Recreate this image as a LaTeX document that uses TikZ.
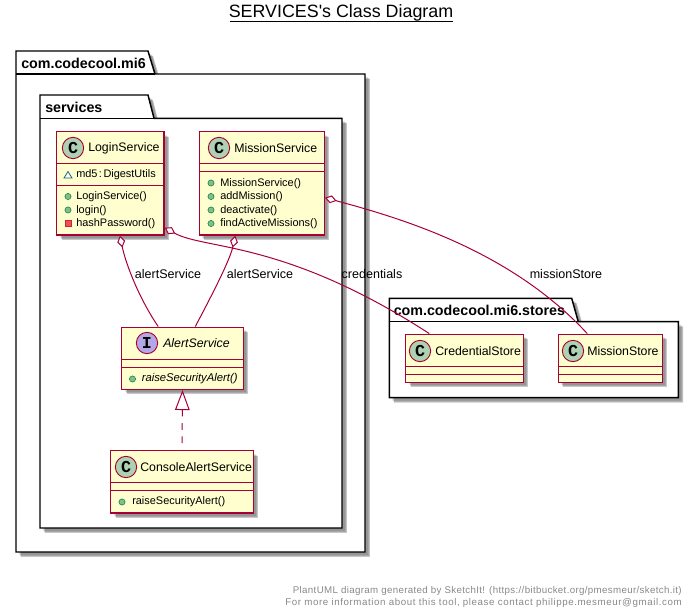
\documentclass[tikz,border=0pt]{standalone}
\usepackage{fontspec}
\setmainfont{Liberation Sans}
\newfontfamily\plainfont{Liberation Sans}
\newfontfamily\spotfont{Liberation Mono}
\usetikzlibrary{shadows,fit,arrows.meta,calc}
\definecolor{crim}{HTML}{A80036}
\definecolor{clsfill}{HTML}{FEFECE}
\definecolor{spotc}{HTML}{ADD1B2}
\definecolor{spoti}{HTML}{B4A7E5}
\definecolor{pubfill}{HTML}{84BE84}
\definecolor{pubdraw}{HTML}{038048}
\definecolor{privfill}{HTML}{F24D5C}
\definecolor{privdraw}{HTML}{C82930}
\definecolor{pkgdraw}{HTML}{1963A0}
\definecolor{footc}{HTML}{888888}
\tikzset{
  softshadow/.style={
    general shadow={fill=black,opacity=.10,shadow xshift=2.2pt,shadow yshift=-2.2pt},
    general shadow={fill=black,opacity=.16,shadow xshift=3pt,shadow yshift=-3pt},
    general shadow={fill=black,opacity=.22,shadow xshift=3.7pt,shadow yshift=-3.7pt}},
  cls/.style={draw=crim,line width=1.1pt,fill=clsfill,inner sep=0pt,softshadow},
  pkgbody/.style={draw=black,line width=1.1pt,fill=white,softshadow},
  pkgline/.style={draw=black,line width=1.1pt},
  sep/.style={draw=crim,line width=1.1pt},
  spot/.style={circle,draw=crim,line width=.7pt,minimum size=16pt,inner sep=0pt,font=\spotfont\bfseries\fontsize{12.5pt}{14pt}\selectfont},
  cname/.style={anchor=west,inner sep=0pt,font=\fontsize{9.25pt}{11pt}\selectfont},
  mem/.style={anchor=west,inner sep=0pt,font=\fontsize{8.2pt}{10pt}\selectfont},
  pname/.style={anchor=west,inner sep=0pt,font=\bfseries\fontsize{10.7pt}{12pt}\selectfont},
  lbl/.style={inner sep=0pt,font=\fontsize{9.4pt}{11pt}\selectfont},
  pubicon/.style={circle,draw=pubdraw,fill=pubfill,line width=.4pt,minimum size=4.6pt,inner sep=0pt},
  privicon/.style={rectangle,draw=privdraw,fill=privfill,line width=.4pt,minimum size=4.4pt,inner sep=0pt},
  assoc/.style={draw=crim,line width=.75pt,{Diamond[open,fill=white,length=9pt,width=6pt]}-},
  realize/.style={draw=crim,line width=.75pt,dash pattern=on 5pt off 5pt,{Triangle[open,fill=white,length=15pt,width=11pt]}-},
}
\begin{document}
\begin{tikzpicture}[x=0.75pt,y=-0.75pt]
\useasboundingbox (0,0) rectangle (694,613);
% title
\node[inner sep=0pt,font=\plainfont\fontsize{13.4pt}{16pt}\selectfont] (title) at (341,12.5) {SERVICES's Class Diagram};
\draw[line width=.95pt] (229.5,21.5) -- (453,21.5);
% outer package
\path[pkgbody] (16,51) -- (148,51) -- (155,74) -- (365,74) -- (365,552) -- (16,552) -- cycle;
\path[pkgline] (16,74) -- (155,74);
\node[pname] (pkgmi) at (21,63) {com.codecool.mi6};
% services package
\path[pkgbody] (40,95) -- (148,95) -- (154,118.3) -- (342,118.3) -- (342,528) -- (40,528) -- cycle;
\path[pkgline] (40,118.3) -- (154,118.3);
\node[pname] (pkgsv) at (45,107) {services};
% stores package
\path[pkgbody] (389.3,298.3) -- (571.7,298.3) -- (578.3,321.7) -- (678.3,321.7) -- (678.3,397.7) -- (389.3,397.7) -- cycle;
\path[pkgline] (389.3,321.7) -- (578.3,321.7);
\node[pname] (pkgst) at (393.5,310) {com.codecool.mi6.stores};
% classes
\node[cls,fit={(56.7,131.7)(164,235)}] (login) {};
\node[cls,fit={(199.3,131.7)(324.3,235)}] (mission) {};
\node[cls,fit={(121.7,327.3)(243.3,389.3)}] (alert) {};
\node[cls,fit={(110.7,450.7)(253.3,513)}] (console) {};
\node[cls,fit={(405.7,334.3)(523.3,382.3)}] (cred) {};
\node[cls,fit={(558.3,334.3)(662.3,382.3)}] (mstore) {};
% compartments
\foreach \n/\a/\b in {login/163.3/185.7,mission/163.3/171.7,alert/359.3/367.3,console/482.7/490.7,cred/366.7/374.7,mstore/366.7/374.7}{
  \draw[sep] (\n.west |- 0,\a) -- (\n.east |- 0,\a);
  \draw[sep] (\n.west |- 0,\b) -- (\n.east |- 0,\b);
}
% headers
\node[spot,fill=spotc] (s1) at (73,148) {C};
\node[cname] (t1) at (88,148) {LoginService};
\node[spot,fill=spotc] (s2) at (219,148) {C};
\node[cname] (t2) at (234,148) {MissionService};
\node[spot,fill=spoti] (s3) at (147,343) {I};
\node[cname] (t3) at (163,343) {\itshape AlertService};
\node[spot,fill=spotc] (s4) at (126,467) {C};
\node[cname] (t4) at (140,467) {ConsoleAlertService};
\node[spot,fill=spotc] (s5) at (420,351) {C};
\node[cname] (t5) at (435,351) {CredentialStore};
\node[spot,fill=spotc] (s6) at (573,351) {C};
\node[cname] (t6) at (587,351) {MissionStore};
% members of LoginService
\draw[pkgdraw,line width=.6pt] (64,178) -- (68,171.5) -- (72,178) -- cycle;
\node[mem] (m1) at (76,175) {md5\kern1.1pt:\kern1.1pt DigestUtils};
\node[pubicon] (i2) at (68,196.5) {};
\node[mem] (m2) at (76,197) {LoginService()};
\node[pubicon] (i3) at (68,210) {};
\node[mem] (m3) at (76,210.5) {login()};
\node[privicon] (i4) at (68,223.5) {};
\node[mem] (m4) at (76,224) {hashPassword()};
% members of MissionService
\node[pubicon] (i5) at (211,183) {};
\node[mem] (m5) at (220,183.5) {MissionService()};
\node[pubicon] (i6) at (211,196.5) {};
\node[mem] (m6) at (220,197) {addMission()};
\node[pubicon] (i7) at (211,210) {};
\node[mem] (m7) at (220,210.5) {deactivate()};
\node[pubicon] (i8) at (211,223.5) {};
\node[mem] (m8) at (220,224) {findActiveMissions()};
% other members
\node[pubicon] (i9) at (132.5,379) {};
\node[mem,font=\fontsize{8.45pt}{10pt}\selectfont] (m9) at (141.5,379) {\itshape raiseSecurityAlert()};
\node[pubicon] (i10) at (122,502) {};
\node[mem] (m10) at (132,502) {raiseSecurityAlert()};
% connectors
\draw[assoc] ($(login.south west)+(64,0)$) .. controls (126,265) and (140,300) .. ($(alert.north west)+(37.3,0)$);
\draw[assoc] ($(mission.south west)+(36.7,0)$) .. controls (230,260) and (212,295) .. ($(alert.north west)+(74.3,0)$);
\draw[assoc] ($(login.south east)+(0,-8)$) .. controls (205,250) and (285,240) .. ($(cred.north west)+(24.3,0)$);
\draw[assoc] ($(mission.south east)+(0,-38)$) .. controls (400,218) and (510,250) .. ($(mstore.north west)+(29.7,0)$);
\draw[realize] (alert.south) -- (console.north);
% connector labels
\node[lbl] (la) at (168,274) {alertService};
\node[lbl] (lb) at (260,274) {alertService};
\node[lbl] (lc) at (372,274) {credentials};
\node[lbl] (ld) at (566,274) {missionStore};
% footer
\node[anchor=east,inner sep=0pt,text=footc,font=\fontsize{7.3pt}{9pt}\selectfont] (f1) at (682,591) {\addfontfeatures{LetterSpace=3.5}PlantUML diagram generated by SketchIt! (https://bitbucket.org/pmesmeur/sketch.it)};
\node[anchor=east,inner sep=0pt,text=footc,font=\fontsize{7.3pt}{9pt}\selectfont] (f2) at (682,603) {\addfontfeatures{LetterSpace=6}For more information about this tool, please contact philippe.mesmeur@gmail.com};
\end{tikzpicture}
\end{document}
